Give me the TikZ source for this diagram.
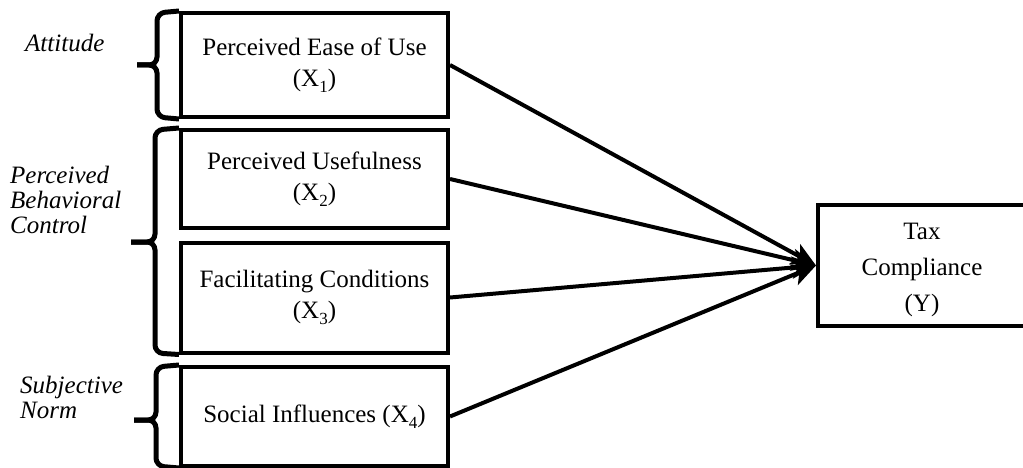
\documentclass[tikz,border=0pt]{standalone}
\usepackage{fontspec}
\setmainfont{Liberation Serif}
\usetikzlibrary{arrows.meta}
\newcommand{\lowsub}[1]{\raisebox{-6pt}{\fontsize{17}{17}\selectfont #1}}
\begin{document}
\begin{tikzpicture}[x=1pt,y=-1pt,
  varbox/.style={draw,line width=4pt,minimum width=267pt,align=center,inner sep=0pt,
    font=\fontsize{25}{31}\selectfont},
  lbl/.style={font=\fontsize{25}{25}\selectfont\itshape,align=left,inner sep=0pt},
  brace/.style={line width=5pt,rounded corners=8pt},
  link/.style={line width=4pt,-{Stealth[length=24pt,width=22pt,inset=6pt]}}]
\useasboundingbox (0,0) rectangle (1023,468);
% boxes
\node[varbox,minimum height=104pt] (x1) at (314.5,65) {Perceived Ease of Use\\(X\lowsub{1})};
\node[varbox,minimum height=98pt] (x2) at (314.5,179) {Perceived Usefulness\\(X\lowsub{2})};
\node[varbox,minimum height=110pt] (x3) at (314.5,297.5) {Facilitating Conditions\\(X\lowsub{3})};
\node[varbox,minimum height=99pt] (x4) at (314.5,416.5) {Social Influences (X\lowsub{4})};
\node[draw,line width=4pt,minimum width=208pt,minimum height=121pt,inner sep=0pt] (y) at (922,265.5) {};
\node[align=center,inner sep=0pt,font=\fontsize{25}{36}\selectfont] (yt) at (922,270) {Tax\\Compliance\\(Y)};
% labels
\node[lbl,anchor=west] (la) at (25,43) {Attitude};
\node[lbl,anchor=west] (lb) at (10,200) {Perceived\\Behavioral\\Control};
\node[lbl,anchor=west] (lc) at (20,397) {Subjective\\Norm};
% braces
\coordinate (a1) at (137,65);
\coordinate (b1) at (131,242);
\coordinate (c1) at (134,420);
\draw[brace] (x1.north west) -- (157,13) -- (157,65) -- (a1);
\draw[brace] (a1) -- (157,65) -- (157,117) -- (x1.south west);
\draw[brace] (x2.north west) -- (155,130) -- (155,242) -- (b1);
\draw[brace] (b1) -- (155,242) -- (155,353) -- (x3.south west);
\draw[brace] (x4.north west) -- (156,367) -- (156,420) -- (c1);
\draw[brace] (c1) -- (156,420) -- (156,466) -- (x4.south west);
% arrows
\draw[link] (x1.east) -- (y.west);
\draw[link] (x2.east) -- (y.west);
\draw[link] (x3.east) -- (y.west);
\draw[link] (x4.east) -- (y.west);
\end{tikzpicture}
\end{document}
